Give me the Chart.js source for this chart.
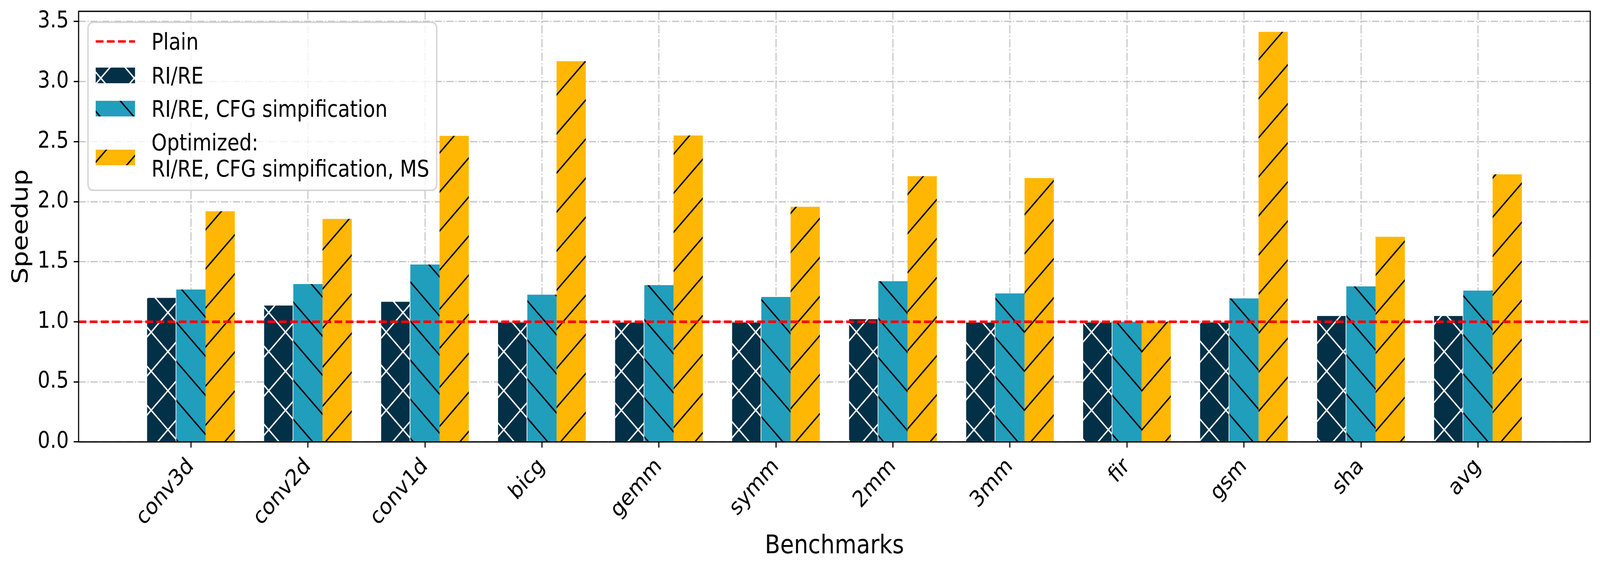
<!DOCTYPE html>
<html>
<head>
<meta charset="utf-8">
<script src="https://cdn.jsdelivr.net/npm/chart.js@4.4.1/dist/chart.umd.min.js"></script>
<style>
html,body{margin:0;padding:0;background:#ffffff;overflow:hidden;width:100%;height:100%;}
canvas{display:block;}
</style>
</head>
<body>
<canvas id="chart" width="4764" height="1464" style="width:100vw;height:100vh;"></canvas>
<script>
// ---------------- data ----------------
const categories = ['conv3d','conv2d','conv1d','bicg','gemm','symm','2mm','3mm','fir','gsm','sha','avg'];
const plainSpeedup = 1.0;
const riReSpeedup = [1.200, 1.135, 1.167, 0.995, 0.995, 0.995, 1.022, 0.995, 0.995, 0.995, 1.049, 1.049];
const cfgSpeedup = [1.269, 1.314, 1.477, 1.226, 1.305, 1.207, 1.338, 1.236, 1.000, 1.195, 1.295, 1.260];
const optimizedSpeedup = [1.920, 1.857, 2.548, 3.170, 2.551, 1.958, 2.212, 2.197, 1.000, 3.414, 1.708, 2.228];
const seriesLabels = ['Plain', 'RI/RE', 'RI/RE, CFG simpification', 'Optimized:\nRI/RE, CFG simpification, MS'];
const yTickValues = [0.0, 0.5, 1.0, 1.5, 2.0, 2.5, 3.0, 3.5];
const xLimits = [-0.96, 11.96];
const yLimits = [0, 3.585];
const xTitle = 'Benchmarks';
const yTitle = 'Speedup';

// ---------------- styles ----------------
const FONT = 'DejaVu Sans';
const PT = 300 / 72;
const colNavy = '#023047', colBlue = '#219EBC', colYellow = '#FFB703';

const canvas = document.getElementById('chart');
const ctx = canvas.getContext('2d');

function makeHatch(bg, fg, dirs, lw) {
  const s = 100;
  const c = document.createElement('canvas');
  c.width = s; c.height = s;
  const g = c.getContext('2d');
  g.fillStyle = bg; g.fillRect(0, 0, s, s);
  g.strokeStyle = fg; g.lineWidth = lw; g.lineCap = 'butt';
  for (const d of dirs) {
    for (const k of [-s, 0, s]) {
      g.beginPath();
      if (d === '/') {            // x + y = s + k
        const C = s + k;
        g.moveTo(-10, C + 10); g.lineTo(s + 10, C - s - 10);
      } else {                     // x - y = k
        g.moveTo(-10, -10 - k); g.lineTo(s + 10, s + 10 - k);
      }
      g.stroke();
    }
  }
  return ctx.createPattern(c, 'repeat');
}

const hatchNavy = makeHatch(colNavy, '#ffffff', ['/', '\\'], 4.0);
const hatchBlue = makeHatch(colBlue, '#000000', ['\\'], 4.0);
const hatchYellow = makeHatch(colYellow, '#000000', ['/'], 4.0);

const toPoints = arr => arr.map((v, i) => ({x: i, y: v}));

const gridCommon = {
  color: 'rgba(176,176,176,0.72)',
  lineWidth: 0.8 * PT,
  drawTicks: true,
  tickLength: 3.5 * PT,
  tickColor: '#000000',
  tickWidth: 0.8 * PT,
  tickBorderDash: []
};
const borderCommon = {display: false, dash: [5.12 * PT, 1.28 * PT, 0.8 * PT, 1.28 * PT]};

const topLayerPlugin = {
  id: 'topLayer',
  afterDraw(chart) {
    const c = chart.ctx;
    const a = chart.chartArea;
    // red reference line above the grid (like matplotlib zorder)
    const meta = chart.getDatasetMeta(0);
    c.save();
    c.beginPath();
    c.rect(a.left, a.top, a.right - a.left, a.bottom - a.top);
    c.clip();
    meta.controller.draw();
    c.restore();
    // frame
    c.save();
    c.strokeStyle = '#000000';
    c.lineWidth = 0.8 * PT;
    c.strokeRect(a.left, a.top, a.right - a.left, a.bottom - a.top);
    c.restore();

    // legend (upper left)
    const ds = chart.data.datasets;
    const fs = 14 * PT;
    c.save();
    c.font = fs + 'px "' + FONT + '"';
    const bx = a.left + 28, by = a.top + 28;
    const textLeft = 189;
    let maxW = 0;
    ds.forEach(d => d.label.split('\n').forEach(t => { maxW = Math.max(maxW, c.measureText(t).width); }));
    const bw = textLeft + maxW + 22;
    const bh = 430;
    const r = 17;
    c.beginPath();
    c.moveTo(bx + r, by);
    c.lineTo(bx + bw - r, by); c.quadraticCurveTo(bx + bw, by, bx + bw, by + r);
    c.lineTo(bx + bw, by + bh - r); c.quadraticCurveTo(bx + bw, by + bh, bx + bw - r, by + bh);
    c.lineTo(bx + r, by + bh); c.quadraticCurveTo(bx, by + bh, bx, by + bh - r);
    c.lineTo(bx, by + r); c.quadraticCurveTo(bx, by, bx + r, by);
    c.closePath();
    c.fillStyle = 'rgba(255,255,255,0.8)';
    c.fill();
    c.strokeStyle = 'rgba(204,204,204,0.8)';
    c.lineWidth = 1.0 * PT;
    c.stroke();

    const handleX0 = bx + 23, handleX1 = bx + 140;
    const rowCenters = [49, 136, 221, 346];
    const lineCenters = [[49], [136], [221], [307, 374]];
    const capHalf = 0.365 * fs;
    ds.forEach((d, i) => {
      const cy = by + rowCenters[i];
      if (d.type === 'line') {
        c.save();
        c.strokeStyle = d.borderColor;
        c.lineWidth = d.borderWidth;
        c.setLineDash(d.borderDash);
        c.beginPath(); c.moveTo(handleX0, cy); c.lineTo(handleX1, cy); c.stroke();
        c.restore();
      } else {
        const ph = 40;
        c.fillStyle = d.backgroundColor;
        c.fillRect(handleX0, cy - ph / 2, handleX1 - handleX0, ph);
      }
      c.fillStyle = '#000000';
      c.textBaseline = 'alphabetic';
      c.textAlign = 'left';
      d.label.split('\n').forEach((t, j) => {
        c.fillText(t, bx + textLeft, by + lineCenters[i][j] + capHalf);
      });
    });
    c.restore();
  }
};

new Chart(ctx, {
  type: 'bar',
  data: {
    datasets: [
      {
        type: 'line',
        label: seriesLabels[0],
        data: [{x: xLimits[0], y: plainSpeedup}, {x: xLimits[1], y: plainSpeedup}],
        borderColor: '#ff0000',
        borderWidth: 1.5 * PT,
        borderDash: [5.55 * PT, 2.4 * PT],
        pointRadius: 0,
        fill: false,
        order: 0
      },
      {
        label: seriesLabels[1],
        data: toPoints(riReSpeedup),
        backgroundColor: hatchNavy,
        borderColor: '#ffffff',
        borderWidth: {top: 0, right: 2, bottom: 0, left: 0},
        borderSkipped: false,
        barPercentage: 1.0,
        categoryPercentage: 0.75,
        order: 1
      },
      {
        label: seriesLabels[2],
        data: toPoints(cfgSpeedup),
        backgroundColor: hatchBlue,
        borderWidth: 0,
        barPercentage: 1.0,
        categoryPercentage: 0.75,
        order: 1
      },
      {
        label: seriesLabels[3],
        data: toPoints(optimizedSpeedup),
        backgroundColor: hatchYellow,
        borderWidth: 0,
        barPercentage: 1.0,
        categoryPercentage: 0.75,
        order: 1
      }
    ]
  },
  options: {
    responsive: false,
    devicePixelRatio: 1,
    animation: false,
    events: [],
    layout: {padding: {top: 29, right: 29, bottom: 0, left: 0}},
    plugins: {
      legend: {display: false},
      tooltip: {enabled: false},
      title: {display: false}
    },
    scales: {
      x: {
        type: 'linear',
        position: 'bottom',
        min: xLimits[0],
        max: xLimits[1],
        offset: false,
        bounds: 'data',
        z: 1,
        grid: Object.assign({}, gridCommon, {offset: false}),
        border: borderCommon,
        afterBuildTicks: scale => { scale.ticks = categories.map((_, i) => ({value: i})); },
        afterFit: scale => { scale.height = 1464 - 1131; scale.paddingLeft = 0; scale.paddingRight = 0; },
        ticks: {
          autoSkip: false,
          maxRotation: 45,
          minRotation: 45,
          padding: 3.5 * PT,
          color: '#000000',
          font: {family: FONT, size: 14 * PT},
          callback: (v) => categories[Math.round(v)]
        },
        title: {
          display: true,
          text: xTitle,
          color: '#000000',
          font: {family: FONT, size: 16 * PT, lineHeight: 1.2},
          padding: {top: 0, bottom: 25}
        }
      },
      y: {
        type: 'linear',
        position: 'left',
        min: yLimits[0],
        max: yLimits[1],
        bounds: 'data',
        z: 1,
        grid: gridCommon,
        border: borderCommon,
        afterBuildTicks: scale => { scale.ticks = yTickValues.map(v => ({value: v})); },
        afterFit: scale => { scale.width = 234; scale.paddingTop = 0; scale.paddingBottom = 0; },
        ticks: {
          padding: 3.5 * PT,
          color: '#000000',
          font: {family: FONT, size: 14 * PT},
          callback: (v) => Number(v).toFixed(1)
        },
        title: {
          display: true,
          text: yTitle,
          color: '#000000',
          font: {family: FONT, size: 16 * PT, lineHeight: 1.2},
          padding: {top: 25, bottom: 0}
        }
      }
    }
  },
  plugins: [topLayerPlugin]
});
</script>
</body>
</html>
